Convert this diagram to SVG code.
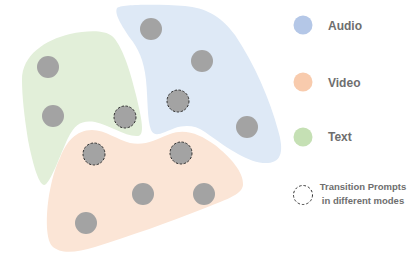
<svg xmlns="http://www.w3.org/2000/svg" width="415" height="255" viewBox="0 0 415 255">
<style>
.pt{fill:#a3a3a3}
.tp{fill:#a3a3a3;stroke:#333;stroke-width:1;stroke-dasharray:2.5,1.5}
.lbl{font-family:"Liberation Sans",Arial,sans-serif;font-size:12px;font-weight:bold;fill:#6e6e6e}
.small{font-family:"Liberation Sans",Arial,sans-serif;font-size:9.5px;font-weight:bold;fill:#6e6e6e}
</style>
<rect width="415" height="255" fill="#fff"/>
<g id="audio-region">
<path d="M117,8 C120,4 160,4 185,6 C205,8 220,15 235,35 C255,65 270,100 278,130 C284,150 282,162 268,163 C250,164 230,150 205,132 C195,125 185,125 175,128 C162,133 155,138 151,130 C147,120 148,100 146,80 C144,60 138,48 130,38 C122,26 114,14 117,8 Z" fill="#dee9f6"/>
<circle class="pt" cx="151" cy="29" r="11"/>
<circle class="pt" cx="202" cy="61" r="11"/>
<circle class="pt" cx="247" cy="127" r="11"/>
<circle class="tp" cx="178" cy="101" r="11"/>
</g>
<g id="text-region">
<path d="M22,80 C22,55 45,40 70,34 C88,30 105,30 112,36 C122,45 130,70 136,95 C142,120 145,135 138,136 C125,137 110,125 95,122 C82,120 75,124 68,138 C60,155 50,185 44,185 C38,184 32,160 28,140 C24,115 22,95 22,80 Z" fill="#e2efd9"/>
<circle class="pt" cx="48" cy="67" r="11"/>
<circle class="pt" cx="53" cy="116" r="11"/>
<circle class="tp" cx="125" cy="117" r="11"/>
</g>
<g id="video-region">
<path d="M60,158 C66,142 76,130 92,130 C105,130 118,140 130,143 C145,146 155,140 170,134 C185,128 200,134 215,145 C230,157 244,172 243,185 C242,195 225,200 200,210 C170,222 130,236 95,247 C75,253 60,254 52,246 C45,238 46,210 50,190 C53,175 56,166 60,158 Z" fill="#fbe5d6"/>
<circle class="tp" cx="94" cy="154" r="11"/>
<circle class="tp" cx="181" cy="153" r="11"/>
<circle class="pt" cx="143" cy="194" r="11"/>
<circle class="pt" cx="204" cy="194" r="11"/>
<circle class="pt" cx="86" cy="223" r="11"/>
</g>
<g id="legend-audio">
<circle cx="303" cy="25" r="9.5" fill="#b4c7e7"/>
<text class="lbl" x="328" y="30">Audio</text>
</g>
<g id="legend-video">
<circle cx="303" cy="82" r="9.5" fill="#f8cbad"/>
<text class="lbl" x="328" y="87">Video</text>
</g>
<g id="legend-text">
<circle cx="303" cy="137" r="9.5" fill="#c5e0b4"/>
<text class="lbl" x="328" y="141">Text</text>
</g>
<g id="legend-transition">
<circle cx="303" cy="195" r="9.5" fill="none" stroke="#333" stroke-width="1" stroke-dasharray="2.5,2"/>
<text class="small" x="363" y="190" text-anchor="middle">Transition Prompts</text>
<text class="small" x="363" y="204" text-anchor="middle">in different modes</text>
</g>
<g id="connectors"/>
</svg>
